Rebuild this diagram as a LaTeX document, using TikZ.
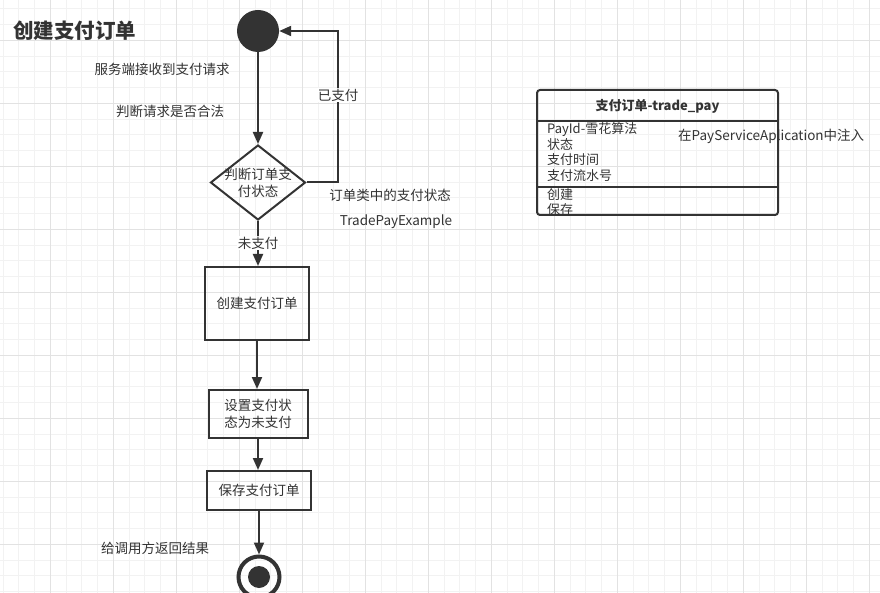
\documentclass[tikz,border=0pt]{standalone}
\usepackage{fontspec}
\setmainfont{Noto Sans CJK SC}
\usetikzlibrary{shapes.geometric,arrows.meta}

\definecolor{ink}{HTML}{333333}
\definecolor{gridminor}{HTML}{F2F2F2}
\definecolor{gridmajor}{HTML}{E2E2E2}

\tikzset{
  lbl/.style={font=\fontsize{13.5}{17}\selectfont, text=ink, inner sep=1pt},
  startnode/.style={circle, fill=ink, minimum size=42pt, inner sep=0pt},
  endnode/.style={circle, draw=ink, line width=4pt, minimum size=41pt, inner sep=0pt,
    path picture={\fill[ink] (path picture bounding box.center) circle (11pt);}},
  decision/.style={diamond, draw=ink, line width=2pt, minimum width=95pt, minimum height=75pt, inner sep=0pt},
  act/.style={rectangle, draw=ink, line width=2pt, align=center, inner sep=0pt, font=\fontsize{13.5}{17}\selectfont, text=ink},
  flow/.style={draw=ink, line width=2pt, -{Triangle[length=12pt,width=10pt]}},
  fields/.style={font=\fontsize{13}{15.5}\selectfont, text=ink, align=left, inner sep=0pt, anchor=north west}
}

\begin{document}
\begin{tikzpicture}[x=1pt, y=-1pt]
\useasboundingbox (0,0) rectangle (880,593);
\fill[white] (0,0) rectangle (880,593);

%Grille
\foreach \i in {0,...,55} \draw[gridminor, line width=1pt] ({3.05+15.75*\i},0) -- ({3.05+15.75*\i},593);
\foreach \j in {0,...,37} \draw[gridminor, line width=1pt] (0,{8.8+15.75*\j}) -- (880,{8.8+15.75*\j});
\foreach \i in {0,...,13} \draw[gridmajor, line width=1pt] ({50.3+63*\i},0) -- ({50.3+63*\i},593);
\foreach \j in {0,...,8} \draw[gridmajor, line width=1pt] (0,{40.3+63*\j}) -- (880,{40.3+63*\j});

%Titre
\node[font=\fontsize{20.5}{24}\selectfont\bfseries, text=ink, anchor=west, inner sep=0pt] (title) at (13,31) {创建支付订单};

%Flux
\node[startnode] (start) at (258,31) {};
\node[decision] (check) at (258,182.5) {};
\node[lbl, align=center] (checktext) at (check) {判断订单支\\付状态};
\node[act, minimum width=104pt, minimum height=73pt] (create) at (257,303.5) {创建支付订单};
\node[act, minimum width=99pt, minimum height=48pt] (setstate) at (258,414) {设置支付状\\态为未支付};
\node[act, minimum width=104pt, minimum height=39pt] (save) at (259,490.5) {保存支付订单};
\node[endnode] (end) at (259,577) {};

\draw[flow] (start.south) -- (check.north);
\draw[flow] (check.east) -- ++(31,0) |- (start.east);
\draw[flow] (check.south) -- (check.south |- create.north);
\draw[flow] (create.south) -- (create.south |- setstate.north);
\draw[flow] (setstate.south) -- (setstate.south |- save.north);
\draw[flow] (save.south) -- (end.north);

%Textes
\node[lbl, fill=white] (paid) at (338,95) {已支付};
\node[lbl, fill=white] (unpaid) at (258,243) {未支付};
\node[lbl] (recv) at (162,69) {服务端接收到支付请求};
\node[lbl] (valid) at (170,111) {判断请求是否合法};
\node[lbl] (state) at (390,195) {订单类中的支付状态};
\node[lbl] (example) at (396,222) {TradePayExample};
\node[lbl] (reply) at (155,548) {给调用方返回结果};

%Classe
\node[draw=ink, line width=2pt, rounded corners=3pt, minimum width=241pt, minimum height=125pt, inner sep=0pt] (tradepay) at (657.5,152.5) {};
\draw[ink, line width=2pt] (tradepay.west |- 0,121) -- (tradepay.east |- 0,121);
\draw[ink, line width=2pt] (tradepay.west |- 0,187) -- (tradepay.east |- 0,187);
\node[font=\fontsize{13}{16}\selectfont\bfseries, text=ink, inner sep=0pt] (tradepayname) at (657.5,106) {支付订单-trade\_pay};
\node[fields] (attrs) at (547,122.5) {PayId-雪花算法\\状态\\支付时间\\支付流水号};
\node[fields] (methods) at (547,188) {创建\\保存};
\node[lbl, anchor=west] (inject) at (677,136) {在PayServiceAplication中注入};
\end{tikzpicture}
\end{document}
